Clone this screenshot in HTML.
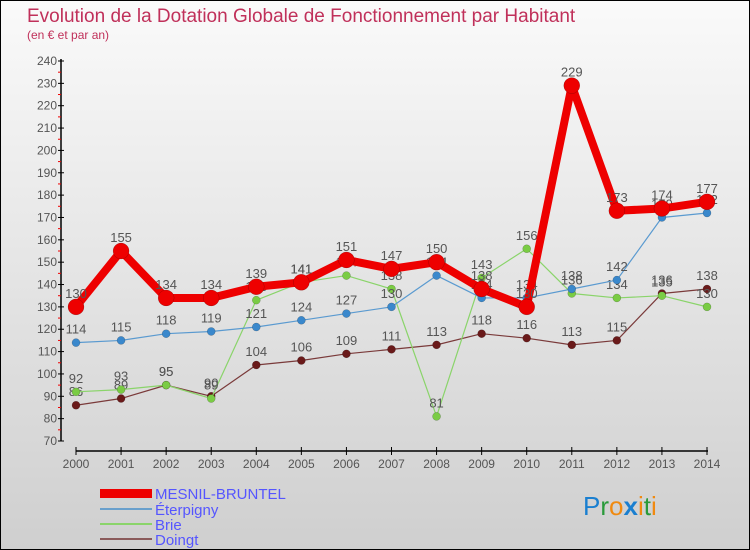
<!DOCTYPE html>
<html><head><meta charset="utf-8"><style>
body{margin:0;width:750px;height:550px;overflow:hidden;font-family:"Liberation Sans",sans-serif}
#wrap{position:relative;width:748px;height:548px;border:1px solid #000;background:linear-gradient(#fafafa,#cfcfcf)}
svg{position:absolute;left:0;top:0}
</style></head><body>
<div id="wrap">
<svg id="chart" width="748" height="548">
<text x="26" y="21" font-size="19" fill="#c0305a">Evolution de la Dotation Globale de Fonctionnement par Habitant</text>
<text x="26" y="38" font-size="12" fill="#c0305a">(en € et par an)</text>
<g id="axes"></g><g id="series"></g>
<g>
<rect x="99" y="488" width="52" height="9" fill="#e00"/>
<text x="154" y="498" font-size="15" fill="#55f">MESNIL-BRUNTEL</text>
<rect x="99" y="507" width="52" height="2" fill="#6aa0cc"/>
<text x="154" y="514" font-size="15" fill="#55f">Éterpigny</text>
<rect x="99" y="522" width="52" height="2" fill="#8ad46a"/>
<text x="154" y="529" font-size="15" fill="#55f">Brie</text>
<rect x="99" y="537" width="52" height="2" fill="#8a5a5a"/>
<text x="154" y="544" font-size="15" fill="#55f">Doingt</text>
</g>
<text x="582" y="514" font-size="26"><tspan fill="#1a7fd0">P</tspan><tspan fill="#2a9a3a">r</tspan><tspan fill="#f08a10">o</tspan><tspan fill="#1a7fd0" font-weight="bold">x</tspan><tspan fill="#f08a10">i</tspan><tspan fill="#2a9a3a">t</tspan><tspan fill="#f08a10">i</tspan></text>
</svg>
</div>
<script>
const years=[2000,2001,2002,2003,2004,2005,2006,2007,2008,2009,2010,2011,2012,2013,2014];
const mesnil=[130,155,134,134,139,141,151,147,150,138,130,229,173,174,177];
const eterpigny=[114,115,118,119,121,124,127,130,144,134,134,138,142,170,172];
const brie=[92,93,95,89,133,141,144,138,81,143,156,136,134,135,130];
const doingt=[86,89,95,90,104,106,109,111,113,118,116,113,115,136,138];
const yTicks=[70,80,90,100,110,120,130,140,150,160,170,180,190,200,210,220,230,240];
const NS="http://www.w3.org/2000/svg";
function x(i){return 75+i*(631/14);}
function y(v){return 440-(v-70)*(380/170);}
function mk(tag,attrs,parent){const e=document.createElementNS(NS,tag);for(const k in attrs)e.setAttribute(k,attrs[k]);parent.appendChild(e);return e;}
const ax=document.getElementById('axes');
let e=mk('line',{x1:60,y1:58,x2:60,y2:440,stroke:'#000','stroke-width':1.5},ax);


e=mk('line',{x1:75,y1:450,x2:707,y2:450,stroke:'#000','stroke-width':1.5},ax);


yTicks.forEach(v=>{
 mk('line',{x1:57,y1:y(v),x2:63,y2:y(v),stroke:'#000'},ax);
 if(v<240)mk('line',{x1:57,y1:y(v+5),x2:60,y2:y(v+5),stroke:'#e00'},ax);
 const t=mk('text',{x:56,y:y(v)+4,'font-size':12,'text-anchor':'end',fill:'#555'},ax);
 t.textContent=v;
 
 
});
years.forEach((yr,i)=>{
 mk('line',{x1:x(i),y1:446,x2:x(i),y2:454,stroke:'#000'},ax);
 const t=mk('text',{x:x(i),y:467,'font-size':12,'text-anchor':'middle',fill:'#555'},ax);
 t.textContent=yr;
 
 
});
const sg=document.getElementById('series');
function draw(name,data,color,w,r,dot){
 const g=mk('g',{},sg);
 
 
 const p=mk('polyline',{points:data.map((v,i)=>x(i)+','+y(v)).join(' '),fill:'none',stroke:color,'stroke-width':w,'stroke-linejoin':'round'},g);
 
 
 data.forEach((v,i)=>{
  const c=mk('circle',{cx:x(i),cy:y(v),r:r,fill:dot,stroke:'rgba(0,0,0,0.3)','stroke-width':0.5},g);
  
  
  const t=mk('text',{x:x(i),y:y(v)-9,'font-size':13,'text-anchor':'middle',fill:'#555'},g);
  t.textContent=v;
  
  
 });
}
draw('doingt',doingt,'#7a3a3a',1.2,4,'#6a1a1a');
draw('brie',brie,'#8ad46a',1.2,4,'#7acc44');
draw('eterpigny',eterpigny,'#5a9ad0',1.2,4,'#3a88cc');
draw('mesnil',mesnil,'#e00',8,8,'#e00');
</script>
</body></html>
